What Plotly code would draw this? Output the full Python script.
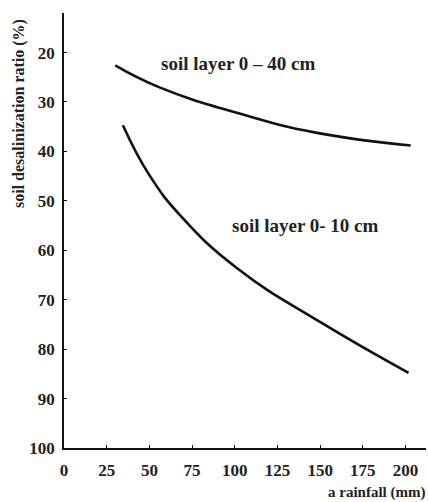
import plotly.graph_objects as go

# Curve points (rainfall mm, desalinization ratio %)
rain_40 = [30, 55.6, 102.3, 147.4, 203]
ratio_40 = [22.6, 27.0, 32.3, 36.2, 38.8]

rain_10 = [34.5, 50, 69, 101.2, 150.9, 201.8]
ratio_10 = [34.7, 44.8, 53.3, 63.6, 74.7, 84.8]

x_ticks = [0, 25, 50, 75, 100, 125, 150, 175, 200]
y_ticks = [20, 30, 40, 50, 60, 70, 80, 90, 100]
y_tick_text = ["20", "30", "40", "50", "60", "70", "80", "90", "100"]

W, H = 428, 502
ML, MR, MT, MB = 64, 2, 13, 54

font_fam = "Liberation Serif, Times New Roman, serif"

fig = go.Figure()
for xs, ys in [(rain_40, ratio_40), (rain_10, ratio_10)]:
    fig.add_trace(go.Scatter(
        x=xs, y=ys, mode="lines",
        line=dict(color="#111111", width=2.6, shape="spline", smoothing=1.3),
        showlegend=False, hoverinfo="skip"))

fig.add_annotation(x=102, y=22.2, xref="x", yref="y", text="<b>soil layer 0 – 40 cm</b>",
                   showarrow=False, xanchor="center", yanchor="middle",
                   font=dict(family=font_fam, size=19, color="#222"))
fig.add_annotation(x=141.5, y=55, xref="x", yref="y", text="<b>soil layer 0- 10 cm</b>",
                   showarrow=False, xanchor="center", yanchor="middle",
                   font=dict(family=font_fam, size=19, color="#222"))

# axis titles
fig.add_annotation(x=(376 - ML) / (W - ML - MR), y=1 - (492 - MT) / (H - MT - MB),
                   xref="paper", yref="paper", text="<b>a rainfall (mm)</b>", showarrow=False,
                   xanchor="center", yanchor="middle",
                   font=dict(family=font_fam, size=15, color="#222"))
fig.add_annotation(x=(19 - ML) / (W - ML - MR), y=1 - (114 - MT) / (H - MT - MB),
                   xref="paper", yref="paper", text="<b>soil desalinization ratio (%)</b>",
                   textangle=-90, showarrow=False, xanchor="center", yanchor="middle",
                   font=dict(family=font_fam, size=16, color="#222"))

tickfont = dict(family=font_fam, size=17, color="#222", weight="bold")
fig.update_layout(
    width=W, height=H,
    margin=dict(l=ML, r=MR, t=MT, b=MB, autoexpand=False),
    paper_bgcolor="white", plot_bgcolor="white",
    font=dict(family=font_fam, color="#111"),
    xaxis=dict(range=[0, 212], tickvals=x_ticks, ticks="inside", ticklen=3,
               tickcolor="#111", showline=True, linecolor="#111", linewidth=1.5,
               showgrid=False, zeroline=False, automargin=False,
               ticklabelstandoff=6, tickfont=tickfont),
    yaxis=dict(range=[100, 12], tickvals=y_ticks, ticktext=y_tick_text,
               ticks="inside", ticklen=3, tickcolor="#111",
               showline=True, linecolor="#111", linewidth=1.5,
               showgrid=False, zeroline=False, automargin=False,
               ticklabelstandoff=4, tickfont=tickfont),
)

fig.write_html("out.html", config={"displayModeBar": False},
               post_script="document.body.style.margin='0';")
